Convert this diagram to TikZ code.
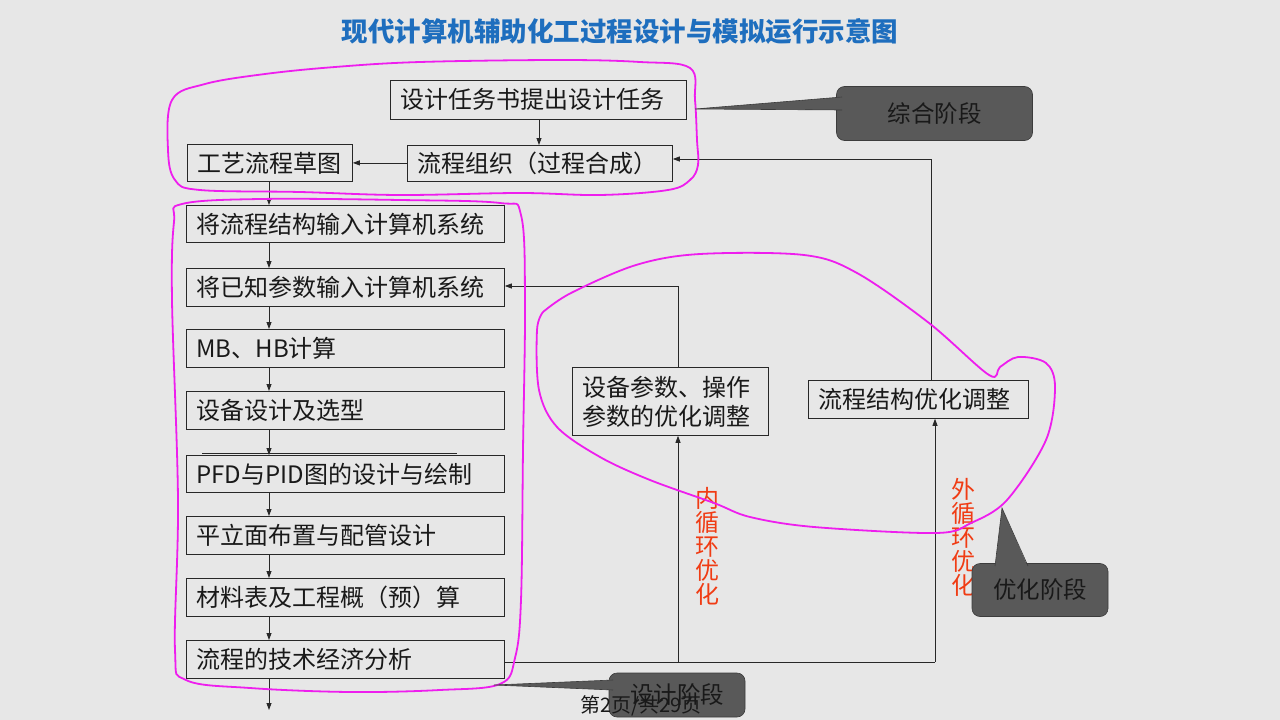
\documentclass[tikz,border=0pt]{standalone}
\usepackage{fontspec}
\newfontfamily\cjk{Noto Sans CJK SC}
\usetikzlibrary{arrows.meta}
\definecolor{bg}{RGB}{231,231,231}
\definecolor{titleblue}{RGB}{30,110,190}
\definecolor{loopred}{RGB}{240,60,20}
\definecolor{pen}{RGB}{238,30,238}
\definecolor{cfill}{RGB}{89,89,89}
\definecolor{cborder}{RGB}{60,60,60}
\definecolor{ln}{RGB}{40,40,40}
\begin{document}
\begin{tikzpicture}[x=1pt,y=-1pt,
  box/.style={draw=ln, line width=0.8pt, anchor=north west, inner xsep=10pt, inner ysep=0pt,
    align=left, font=\cjk\fontsize{24}{29}\selectfont, text=black!90},
  arr/.style={draw=ln, line width=0.8pt, -{Triangle[length=7pt,width=5pt]}},
  lnk/.style={draw=ln, line width=0.8pt},
  callout/.style={fill=cfill, draw=cborder, line width=0.6pt, rounded corners=8pt,
    font=\cjk\fontsize{23.5}{26}\selectfont, text=black!90, inner sep=0pt},
  penline/.style={draw=pen, line width=1.8pt},
  vtext/.style={font=\cjk\fontsize{24}{24}\selectfont, text=loopred, align=center, inner sep=0pt}]
\fill[bg] (0,0) rectangle (1280,720);
\useasboundingbox (0,0) rectangle (1280,720);

% title
\node (title) at (620,31) {\cjk\bfseries\fontsize{26.5}{30}\selectfont\color{titleblue}现代计算机辅助化工过程设计与模拟运行示意图};

% top boxes
\node[box, text width=276pt, minimum height=39pt] (task) at (390,80) {设计任务书提出设计任务};
\node[box, text width=245pt, minimum height=36pt] (org) at (407,145) {流程组织（过程合成）};
\node[box, text width=145pt, minimum height=37pt] (sketch) at (187,144) {工艺流程草图};

% left column
\node[box, text width=298pt, minimum height=37pt] (b1) at (186,205) {将流程结构输入计算机系统};
\node[box, text width=298pt, minimum height=38pt] (b2) at (186,268) {将已知参数输入计算机系统};
\node[box, text width=298pt, minimum height=38pt] (b3) at (186,329) {MB、HB计算};
\node[box, text width=298pt, minimum height=38pt] (b4) at (186,391) {设备设计及选型};
\node[box, text width=298pt, minimum height=37pt] (b5) at (186,455) {PFD与PID图的设计与绘制};
\node[box, text width=298pt, minimum height=38pt] (b6) at (186,516) {平立面布置与配管设计};
\node[box, text width=298pt, minimum height=38pt] (b7) at (186,578) {材料表及工程概（预）算};
\node[box, text width=298pt, minimum height=38pt] (b8) at (186,640) {流程的技术经济分析};
\draw[lnk, line width=0.6pt] (202,453) -- (457,453);

% optimisation boxes
\node[box, text width=176pt, minimum height=68pt, inner xsep=10pt] (sb) at (572,367) {设备参数、操作\\参数的优化调整};
\node[box, text width=200pt, minimum height=38pt] (jg) at (808,380) {流程结构优化调整};

% coordinates
\coordinate (ax) at (269,0);
\coordinate (tx) at (539,0);
\coordinate (end) at (269,710);
\coordinate (ci) at (678,662);
\coordinate (co) at (935,662);
\coordinate (ui) at (678,286);
\coordinate (uo) at (931,159);

% main chain arrows
\draw[arr] (task.south -| tx) -- (org.north -| tx);
\draw[arr] (org.west |- sketch.east) -- (sketch.east);
\draw[arr] (sketch.south -| ax) -- (b1.north -| ax);
\draw[arr] (b1.south -| ax) -- (b2.north -| ax);
\draw[arr] (b2.south -| ax) -- (b3.north -| ax);
\draw[arr] (b3.south -| ax) -- (b4.north -| ax);
\draw[arr] (b4.south -| ax) -- (b5.north -| ax);
\draw[arr] (b5.south -| ax) -- (b6.north -| ax);
\draw[arr] (b6.south -| ax) -- (b7.north -| ax);
\draw[arr] (b7.south -| ax) -- (b8.north -| ax);
\draw[arr] (b8.south -| ax) -- (end);

% loops
\draw[lnk] (b8.east |- ci) -- (co);
\draw[arr] (ci) -- (ci |- sb.south);
\draw[arr] (co) -- (co |- jg.south);
\draw[arr] (ui |- sb.north) -- (ui) -- (b2.east |- ui);
\draw[arr] (uo |- jg.north) -- (uo) -- (org.east |- uo);

% loop labels
\node[vtext] (inner) at (707,546) {内\\循\\环\\优\\化};
\node[vtext] (outer) at (963,537) {外\\循\\环\\优\\化};

% freehand outlines
\draw[penline] plot[smooth cycle, tension=0.6] coordinates {(172,100) (205,84) (265,74) (335,67) (420,62) (560,60) (640,62) (690,68) (695,100) (697,140) (698,165) (690,180) (668,190) (600,195) (520,193) (400,195) (300,192) (200,190) (175,180) (168,150)};
\draw[penline] plot[smooth cycle, tension=0.6] coordinates {(182,204) (260,199) (400,200) (500,203) (521,215) (525,300) (523,450) (521,600) (515,658) (500,684) (440,690) (350,692) (250,688) (186,680) (175,650) (178,500) (172,300) (174,222)};
\draw[penline] plot[smooth, tension=0.55] coordinates {(543,312) (571,293) (636,265) (700,254) (804,255) (857,273) (929,323) (989,375) (1000,367) (1018,357) (1046,363) (1055,387) (1046,440) (1007,500) (971,523) (936,533) (814,527) (750,517) (714,503) (650,480) (600,457) (557,427) (539,390) (537,330) (543,312)};

% callouts
\node[callout, minimum width=196pt, minimum height=54pt] (zh) at (934.5,113.5) {综合阶段};
\fill[cfill] (695,109) -- (842,97) -- (842,110) -- cycle;
\draw[cborder, line width=0.6pt] (842,97) -- (695,109) -- (842,110);

\node[callout, minimum width=136pt, minimum height=53pt] (yh) at (1040,590) {优化阶段};
\fill[cfill] (1002,508) -- (995,567) -- (1028,567) -- cycle;
\draw[cborder, line width=0.6pt] (995,566) -- (1002,508) -- (1028,566);

\node[callout, minimum width=136pt, minimum height=44pt] (sj) at (677,695) {\raisebox{2pt}{设计阶段}};
\fill[cfill] (494,685) -- (613,680) -- (613,690) -- cycle;
\draw[cborder, line width=0.6pt] (613,680) -- (494,685) -- (613,690);

% footer
\node[font=\cjk\fontsize{20}{22}\selectfont, text=black!90, inner sep=0pt] (foot) at (641,706) {第2页/共29页};
\end{tikzpicture}
\end{document}
